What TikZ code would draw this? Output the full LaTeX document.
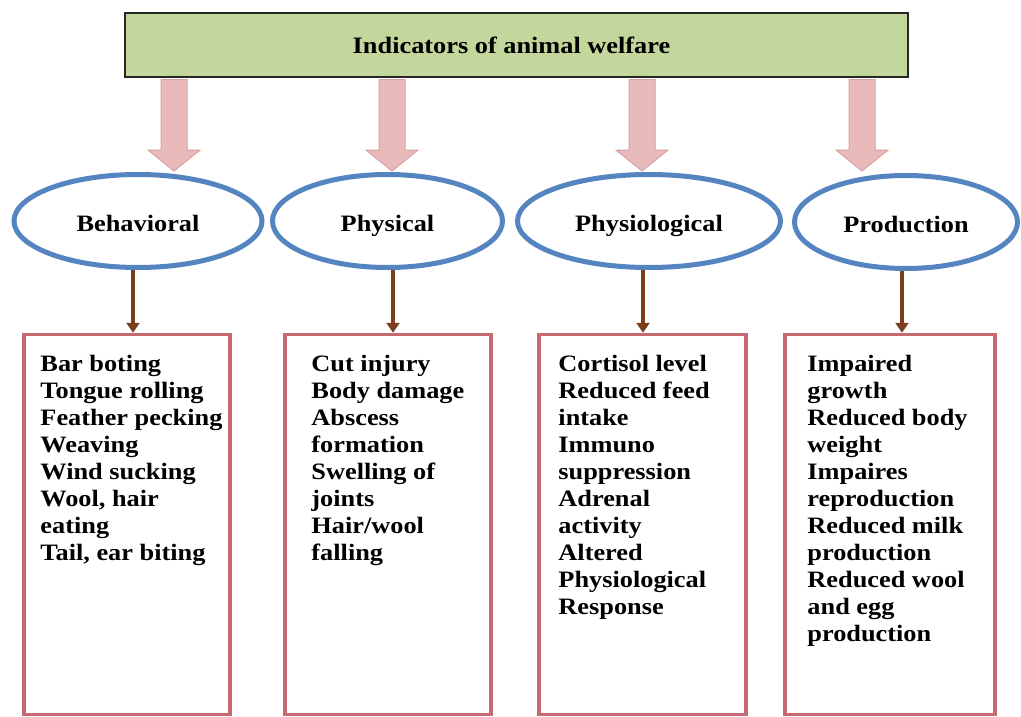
\documentclass[tikz,border=0pt]{standalone}
\usepackage{fontspec}
\setmainfont{Liberation Serif}[FakeStretch=1.12]
\usetikzlibrary{shapes.geometric,arrows.meta,calc}
\definecolor{titlegreen}{HTML}{C3D69B}
\definecolor{ovalblue}{HTML}{5585C0}
\definecolor{boxred}{HTML}{C46A70}
\definecolor{arrowpink}{HTML}{E8BABA}
\definecolor{arrowedge}{HTML}{D9A0A0}
\definecolor{arrowbrown}{HTML}{7B3F1D}
\newcommand\welfarearrow[2]{%
  \draw[blockarrow] ($(#1)+(-13,0)$) -- ($(#1)+(13,0)$) -- ($(#2)+(13,-21)$) -- ($(#2)+(26,-21)$) -- (#2) -- ($(#2)+(-26,-21)$) -- ($(#2)+(-13,-21)$) -- cycle;}
\begin{document}
\begin{tikzpicture}[x=1pt,y=-1pt,
  txt/.style={font=\fontsize{23.5}{27}\selectfont\bfseries},
  titlebox/.style={txt, draw=black!85, line width=2.5pt, fill=titlegreen, minimum width=783pt, minimum height=64pt, inner sep=0pt},
  oval/.style={txt, ellipse, draw=ovalblue, line width=5pt, fill=white, inner sep=0pt, minimum height=93pt, text height=20pt, text depth=0pt},
  itembox/.style={draw=boxred, line width=3.5pt, minimum height=380pt, inner sep=0pt},
  itemtext/.style={txt, anchor=north west, inner sep=0pt, align=left},
  blockarrow/.style={draw=arrowedge, line width=1pt, fill=arrowpink},
  brownarrow/.style={draw=arrowbrown, line width=4.5pt, -{Triangle[width=13pt,length=10pt]}}
]
\useasboundingbox (0,0) rectangle (1021,717);
\fill[white] (0,0) rectangle (1021,717);

% ellipses
\node[oval, minimum width=248pt] (E1) at (138,221) {Behavioral};
\node[oval, minimum width=230pt] (E2) at (387.5,221) {Physical};
\node[oval, minimum width=263pt] (E3) at (649,221) {Physiological};
\node[oval, minimum width=223pt] (E4) at (906,222) {Production};

% title
\node[titlebox] (T) at (516.5,45) {\hspace*{-10pt}Indicators of animal welfare};

% block arrows
\coordinate (t1) at (174,171);
\coordinate (t2) at (392,171);
\coordinate (t3) at (642,171);
\coordinate (t4) at (862,171);
\welfarearrow{$(T.south -| t1)+(0,1.3)$}{t1}
\welfarearrow{$(T.south -| t2)+(0,1.3)$}{t2}
\welfarearrow{$(T.south -| t3)+(0,1.3)$}{t3}
\welfarearrow{$(T.south -| t4)+(0,1.3)$}{t4}

% boxes
\node[itembox, minimum width=206pt] (B1) at (127,524.5) {};
\node[itembox, minimum width=206pt] (B2) at (388,524.5) {};
\node[itembox, minimum width=207pt] (B3) at (642.5,524.5) {};
\node[itembox, minimum width=210pt] (B4) at (890,524.5) {};

% brown arrows
\coordinate (d1) at (133,0);
\coordinate (d2) at (393,0);
\coordinate (d3) at (643,0);
\coordinate (d4) at (902,0);
\draw[brownarrow] (E1.south -| d1) -- (B1.north -| d1);
\draw[brownarrow] (E2.south -| d2) -- (B2.north -| d2);
\draw[brownarrow] (E3.south -| d3) -- (B3.north -| d3);
\draw[brownarrow] (E4.south -| d4) -- (B4.north -| d4);

% texts
\node[itemtext] (L1) at ($(B1.north west)+(18,22)$) {Bar boting\\Tongue rolling\\Feather pecking\\Weaving\\Wind sucking\\Wool, hair\\eating\\Tail, ear biting};
\node[itemtext] (L2) at ($(B2.north west)+(28,22)$) {Cut injury\\Body damage\\Abscess\\formation\\Swelling of\\joints\\Hair/wool\\falling};
\node[itemtext] (L3) at ($(B3.north west)+(21,22)$) {Cortisol level\\Reduced feed\\intake\\Immuno\\suppression\\Adrenal\\activity\\Altered\\Physiological\\Response};
\node[itemtext] (L4) at ($(B4.north west)+(24,22)$) {Impaired\\growth\\Reduced body\\weight\\Impaires\\reproduction\\Reduced milk\\production\\Reduced wool\\and egg\\production};
\end{tikzpicture}
\end{document}
